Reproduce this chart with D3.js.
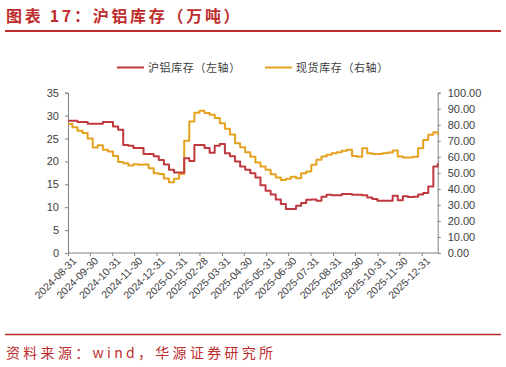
<!DOCTYPE html>
<html><head><meta charset="utf-8">
<script src="https://cdn.jsdelivr.net/npm/d3@7/dist/d3.min.js"></script>
<style>
html,body{margin:0;padding:0;background:#fff;}
svg{display:block;}
</style></head>
<body>
<script>
const titleText = "图表 17：沪铝库存（万吨）";
const sourceText = "资料来源：wind，华源证券研究所";
const seriesNames = ["沪铝库存（左轴）", "现货库存（右轴）"];
const dates = ["2024-08-31","2024-09-06","2024-09-13","2024-09-20","2024-09-27","2024-10-04","2024-10-11","2024-10-18","2024-10-25","2024-11-01","2024-11-08","2024-11-15","2024-11-22","2024-11-29","2024-12-06","2024-12-13","2024-12-20","2024-12-27","2025-01-03","2025-01-10","2025-01-17","2025-01-24","2025-01-31","2025-02-07","2025-02-14","2025-02-21","2025-02-28","2025-03-07","2025-03-14","2025-03-21","2025-03-28","2025-04-04","2025-04-11","2025-04-18","2025-04-25","2025-05-02","2025-05-09","2025-05-16","2025-05-23","2025-05-30","2025-06-06","2025-06-13","2025-06-20","2025-06-27","2025-07-04","2025-07-11","2025-07-18","2025-07-25","2025-08-01","2025-08-08","2025-08-15","2025-08-22","2025-08-29","2025-09-05","2025-09-12","2025-09-19","2025-09-26","2025-10-03","2025-10-10","2025-10-17","2025-10-24","2025-10-31","2025-11-07","2025-11-14","2025-11-21","2025-11-28","2025-12-05","2025-12-12","2025-12-19","2025-12-26","2026-01-02","2026-01-09","2026-01-16","2026-01-22"];
const shfeStock = [28.9,28.9,28.6,28.6,28.2,28.2,28.2,28.6,28.6,27.6,26.9,23.6,23.4,22.9,22.9,21.6,21.6,21.1,20.3,19.3,18.2,17.6,17.6,20.7,20.1,23.6,23.6,22.9,21.9,23.4,23.8,21.8,21.1,20.0,18.9,18.2,17.4,16.5,14.8,13.6,12.8,11.7,10.7,9.6,9.6,10.3,10.9,11.6,11.7,11.4,12.3,12.7,12.6,12.6,12.9,12.9,12.7,12.7,12.6,12.1,11.8,11.4,11.4,11.4,12.5,11.5,12.4,12.2,12.3,12.8,13.1,14.5,18.9,19.6];
const spotStock = [80.5,78.5,76.2,74.8,71.5,65.8,67.2,64.4,63.3,60.5,56.7,56.0,54.6,55.4,55.0,55.2,52.9,49.8,49.3,46.5,44.2,46.3,49.3,70.0,82.0,87.5,88.8,87.3,86.3,84.2,81.0,77.5,74.0,68.5,66.0,62.8,60.0,56.5,53.9,51.9,49.2,47.1,45.6,46.3,47.5,46.7,49.8,50.8,55.0,58.1,60.2,61.3,62.3,62.8,63.8,64.4,60.5,60.0,65.4,62.3,61.7,61.7,62.3,62.7,64.0,60.2,59.6,59.6,60.0,65.4,70.5,73.8,75.4,73.8];
const leftTicks = [0,5,10,15,20,25,30,35];
const rightTicks = [0,10,20,30,40,50,60,70,80,90,100];
const xTickLabels = ["2024-08-31","2024-09-30","2024-10-31","2024-11-30","2024-12-31","2025-01-31","2025-02-28","2025-03-31","2025-04-30","2025-05-31","2025-06-30","2025-07-31","2025-08-31","2025-09-30","2025-10-31","2025-11-30","2025-12-31"];

const W = 506, H = 367;
const red = "#BE2D2D";
const lineRed = "#C0393F";
const lineOrange = "#E5A21E";
const axisColor = "#808080";
const textColor = "#404040";

const parse = d3.timeParse("%Y-%m-%d");
const svg = d3.select("body").append("svg").attr("width", W).attr("height", H);
svg.append("rect").attr("width", W).attr("height", H).attr("fill", "#fff");

// Title
svg.append("text").attr("x", 6).attr("y", 22).text(titleText)
  .attr("font-family", "'Noto Sans CJK SC', sans-serif").attr("font-size", 16)
  .attr("font-weight", "bold").attr("letter-spacing", 2.7).attr("fill", red);
svg.append("line").attr("x1", 5).attr("x2", 501).attr("y1", 31).attr("y2", 31)
  .attr("stroke", red).attr("stroke-width", 2);

// Footer
svg.append("line").attr("x1", 5).attr("x2", 501).attr("y1", 334.5).attr("y2", 334.5)
  .attr("stroke", red).attr("stroke-width", 1.5);
svg.append("text").attr("x", 6).attr("y", 358).text(sourceText)
  .attr("font-family", "'Noto Sans CJK SC', sans-serif").attr("font-size", 14)
  .attr("letter-spacing", 3.3).attr("fill", red);

// Scales
const x = d3.scaleTime().domain([parse("2024-08-31"), parse("2026-01-22")]).range([68, 437.7]);
const yL = d3.scaleLinear().domain([0, 35]).range([253, 92.7]);
const yR = d3.scaleLinear().domain([0, 100]).range([253, 92.7]);

const font = "'Liberation Sans', Arial, sans-serif";

// Left axis
const gL = svg.append("g").attr("transform", "translate(68,0)")
  .call(d3.axisLeft(yL).tickValues(leftTicks).tickSize(3).tickPadding(6));
// Right axis
const gR = svg.append("g").attr("transform", "translate(437.7,0)")
  .call(d3.axisRight(yR).tickValues(rightTicks).tickSize(3).tickPadding(7).tickFormat(d3.format(".2f")));
// Bottom axis
const gB = svg.append("g").attr("transform", "translate(0,253)")
  .call(d3.axisBottom(x).tickValues(xTickLabels.map(parse)).tickSize(3).tickFormat(d3.timeFormat("%Y-%m-%d")));

[gL, gR, gB].forEach(g => {
  g.select(".domain").attr("stroke", axisColor).attr("stroke-width", 1);
  g.selectAll(".tick line").attr("stroke", axisColor);
  g.selectAll("text").attr("font-family", font).attr("font-size", 11).attr("fill", textColor);
});
gB.select(".domain").attr("d", "M68,0H437.7");
gB.selectAll(".tick text")
  .attr("text-anchor", "end")
  .attr("font-size", 10.5)
  .attr("transform", "translate(6,6) rotate(-45)")
  .attr("dy", "0.35em").attr("y", 0).attr("x", 0);

// Lines
const line = (vals, ys) => d3.line()
  .x((d, i) => x(parse(dates[i])))
  .y(d => ys(d))
  .curve(d3.curveStepAfter)(vals);

svg.append("path").attr("d", line(spotStock, yR)).attr("fill", "none")
  .attr("stroke", lineOrange).attr("stroke-width", 2).attr("stroke-linejoin", "round");
svg.append("path").attr("d", line(shfeStock, yL)).attr("fill", "none")
  .attr("stroke", lineRed).attr("stroke-width", 2).attr("stroke-linejoin", "round");

// Legend
const legend = svg.append("g");
const legItems = [
  {name: seriesNames[0], color: lineRed, x: 117},
  {name: seriesNames[1], color: lineOrange, x: 265}
];
legItems.forEach(it => {
  legend.append("line").attr("x1", it.x).attr("x2", it.x + 27).attr("y1", 67.5).attr("y2", 67.5)
    .attr("stroke", it.color).attr("stroke-width", 2);
  legend.append("text").attr("x", it.x + 31).attr("y", 71.5).text(it.name)
    .attr("font-family", "'Noto Sans CJK SC', sans-serif").attr("font-size", 11)
    .attr("letter-spacing", 0.6).attr("fill", textColor);
});
</script>
</body></html>
